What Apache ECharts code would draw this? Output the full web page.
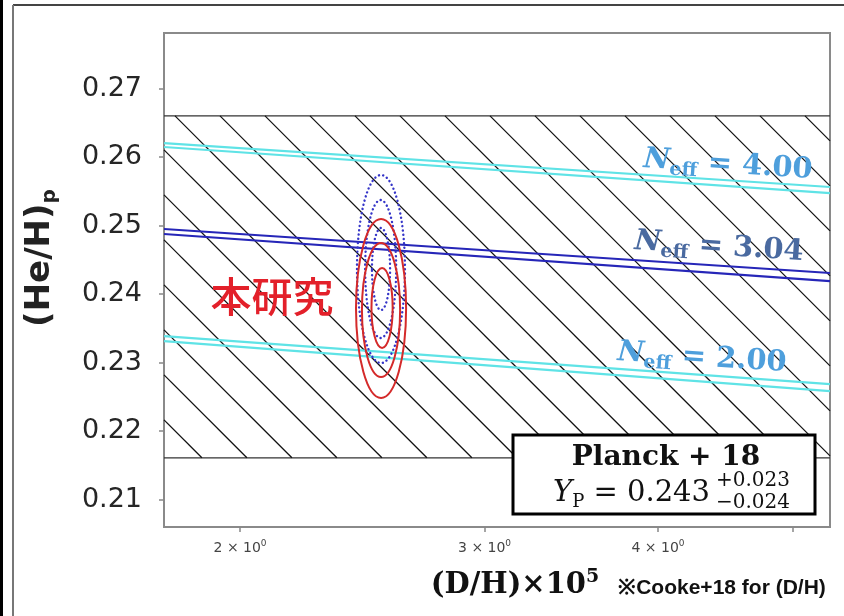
<!DOCTYPE html>
<html><head><meta charset="utf-8">
<script src="https://cdn.jsdelivr.net/npm/echarts@6/dist/echarts.min.js"></script>
<style>html,body{margin:0;padding:0;background:#fff}#c{width:844px;height:616px}</style>
</head><body><div id="c"></div>
<script>
// ---- data ----
const xRange = [1.763, 5.32];
const yRange = [0.206, 0.2781];
const xTickValues = [2, 3, 4, 5];
const xLabelValues = [2, 3, 4];
const yTickValues = [0.21, 0.22, 0.23, 0.24, 0.25, 0.26, 0.27];
const planckBand = [0.2161, 0.2660];
const neffX = [1.763, 5.32];
const neff400Upper = [0.26204, 0.25562];
const neff400Lower = [0.26146, 0.25474];
const neff304Upper = [0.24949, 0.24307];
const neff304Lower = [0.24876, 0.24190];
const neff200Upper = [0.23387, 0.22686];
const neff200Lower = [0.23314, 0.22584];
// contours: [xLeft, xRight, yLow, yHigh]
const thisWorkContours = [
  [2.487, 2.576, 0.23212, 0.24380],
  [2.448, 2.608, 0.22788, 0.24744],
  [2.424, 2.634, 0.22482, 0.25095]
];
const dottedContours = [
  [2.489, 2.565, 0.23766, 0.24964],
  [2.461, 2.591, 0.23358, 0.25372],
  [2.428, 2.629, 0.22993, 0.25737]
];

const chart = echarts.init(document.getElementById('c'), null, {renderer: 'canvas'});
const CYAN = '#5fe3e6', BLUE = '#2626b8';

function pairs(xs, ys) { return xs.map((x, i) => [x, ys[i]]); }
function lineSeries(xs, ys, color) {
  return {type: 'line', data: pairs(xs, ys), symbol: 'none', silent: true, z: 3,
    lineStyle: {color: color, width: 2.2}};
}
function ellipseSeries(data, style) {
  return {type: 'custom', coordinateSystem: 'cartesian2d', data: data, z: 4, silent: true,
    encode: {x: [0, 1], y: [2, 3]},
    renderItem: function (params, api) {
      const p1 = api.coord([api.value(0), api.value(3)]);
      const p2 = api.coord([api.value(1), api.value(2)]);
      return {type: 'ellipse',
        shape: {cx: (p1[0] + p2[0]) / 2, cy: (p1[1] + p2[1]) / 2,
                rx: Math.abs(p2[0] - p1[0]) / 2, ry: Math.abs(p2[1] - p1[1]) / 2},
        style: Object.assign({fill: 'none'}, style)};
    }};
}

const hatchSeries = {
  type: 'custom', coordinateSystem: 'cartesian2d', silent: true, z: 1,
  data: [[xRange[0], planckBand[0], xRange[1], planckBand[1]]],
  encode: {x: [0, 2], y: [1, 3]},
  renderItem: function (params, api) {
    const cs = params.coordSys;
    const L = cs.x, R = cs.x + cs.width;
    const top = api.coord([api.value(0), api.value(3)])[1];
    const bot = api.coord([api.value(0), api.value(1)])[1];
    const children = [];
    const st = {stroke: '#111', lineWidth: 1.3};
    children.push({type: 'line', shape: {x1: L, y1: top, x2: R, y2: top}, style: {stroke: '#333', lineWidth: 1.3}});
    children.push({type: 'line', shape: {x1: L, y1: bot, x2: R, y2: bot}, style: {stroke: '#333', lineWidth: 1.3}});
    const step = 45;
    for (let c = 34 - step * 20; c <= bot - top; c += step) {
      const xs = Math.max(L, L - c), xe = Math.min(R, L + (bot - top) - c);
      if (xs < xe) {
        children.push({type: 'line', shape: {x1: xs, y1: top + c + (xs - L), x2: xe, y2: top + c + (xe - L)}, style: st});
      }
    }
    return {type: 'group', children: children};
  }
};

const serif = "'DejaVu Serif', 'Liberation Serif', serif";
function neffLabel(x, y, val, color) {
  return {type: 'text', x: x, y: y, rotation: -0.066, z: 10,
    style: {text: '{n|N}{s|eff}{t| = ' + val + '}', align: 'center', verticalAlign: 'middle',
      rich: {
        n: {fontFamily: serif, fontSize: 29, fontWeight: 'bold', fontStyle: 'italic', fill: color, lineHeight: 36, verticalAlign: 'middle'},
        s: {fontFamily: serif, fontSize: 19, fontWeight: 'bold', fill: color, lineHeight: 18, verticalAlign: 'bottom'},
        t: {fontFamily: serif, fontSize: 29, fontWeight: 'bold', fill: color, lineHeight: 36, verticalAlign: 'middle'}
      }}};
}

const option = {
  animation: false,
  backgroundColor: '#fff',
  grid: {left: 164, right: 14, top: 33, bottom: 89, show: true, borderColor: '#8a8a8a', borderWidth: 2, backgroundColor: 'transparent'},
  xAxis: {type: 'log', logBase: 10, min: xRange[0], max: xRange[1],
    axisLine: {show: false}, splitLine: {show: false}, minorTick: {show: false},
    axisTick: {show: true, inside: false, length: 5, lineStyle: {color: '#888', width: 1.5}, customValues: xTickValues},
    axisLabel: {customValues: xLabelValues, margin: 12, color: '#444',
      formatter: function (v) { return '{a|' + Math.round(v) + ' \u00d7 10}{s|0}'; },
      rich: {a: {fontSize: 14, fontFamily: 'DejaVu Sans', color: '#444', lineHeight: 18, verticalAlign: 'middle'},
             s: {fontSize: 9, fontFamily: 'DejaVu Sans', color: '#444', lineHeight: 9, verticalAlign: 'top'}}}},
  yAxis: {type: 'value', min: yRange[0], max: yRange[1],
    axisLine: {show: false}, splitLine: {show: false},
    axisTick: {show: true, inside: false, length: 5, lineStyle: {color: '#888', width: 1.5}, customValues: yTickValues},
    axisLabel: {customValues: yTickValues, margin: 22, fontSize: 27, color: '#262626', fontFamily: 'DejaVu Sans',
      formatter: function (v) { return v.toFixed(2); }}},
  series: [
    hatchSeries,
    lineSeries(neffX, neff400Upper, CYAN), lineSeries(neffX, neff400Lower, CYAN),
    lineSeries(neffX, neff304Upper, BLUE), lineSeries(neffX, neff304Lower, BLUE),
    lineSeries(neffX, neff200Upper, CYAN), lineSeries(neffX, neff200Lower, CYAN),
    ellipseSeries(dottedContours, {stroke: '#3535c8', lineWidth: 2.4, lineDash: [0.1, 4.2], lineCap: 'round'}),
    ellipseSeries(thisWorkContours, {stroke: '#d42a2a', lineWidth: 2})
  ],
  graphic: [
    // outer frame
    {type: 'rect', shape: {x: 0, y: 0, width: 3, height: 616}, style: {fill: '#000'}},
    {type: 'line', shape: {x1: 13, y1: 5, x2: 844, y2: 5}, style: {stroke: '#444', lineWidth: 2}},
    {type: 'line', shape: {x1: 13, y1: 5, x2: 13, y2: 616}, style: {stroke: '#777', lineWidth: 2}},
    // y axis title
    {type: 'text', x: 40, y: 258, rotation: Math.PI / 2, z: 10,
      style: {text: '{a|(He/H)}{b|p}', align: 'center', verticalAlign: 'middle',
        rich: {a: {fontFamily: 'DejaVu Sans', fontSize: 34, fontWeight: 'bold', fill: '#222', lineHeight: 40, verticalAlign: 'middle'},
               b: {fontFamily: 'DejaVu Sans', fontSize: 20, fontWeight: 'bold', fill: '#222', lineHeight: 20, verticalAlign: 'bottom'}}}},
    // x axis title
    {type: 'text', x: 515, y: 585, z: 10,
      style: {text: '{a|(D/H)\u00d710}{b|5}', align: 'center', verticalAlign: 'middle',
        rich: {a: {fontFamily: serif, fontSize: 29, fontWeight: 'bold', fill: '#111', lineHeight: 34, verticalAlign: 'middle'},
               b: {fontFamily: serif, fontSize: 19, fontWeight: 'bold', fill: '#111', lineHeight: 18, verticalAlign: 'top'}}}},
    {type: 'text', x: 722, y: 588, z: 10,
      style: {text: '\u203bCooke+18 for (D/H)', align: 'center', verticalAlign: 'middle',
        font: "bold 21px 'Liberation Sans Narrow', 'Liberation Sans', sans-serif", fill: '#111'}},
    // this work label
    {type: 'text', x: 272, y: 296, z: 10,
      style: {text: '本研究', align: 'center', verticalAlign: 'middle',
        font: "500 41px 'Noto Sans CJK JP', sans-serif", fill: '#e3202a'}},
    neffLabel(728, 165, '4.00', '#4e9fdc'),
    neffLabel(719, 247, '3.04', '#4a6aa0'),
    neffLabel(702, 358, '2.00', '#4e9fdc'),
    // Planck box
    {type: 'rect', z: 20, shape: {x: 513, y: 435, width: 302, height: 79},
      style: {fill: '#fff', stroke: '#000', lineWidth: 3}},
    {type: 'text', z: 21, x: 666, y: 458,
      style: {text: 'Planck + 18', align: 'center', verticalAlign: 'middle', font: "bold 28px " + serif, fill: '#111'}},
    {type: 'text', z: 21, x: 553, y: 493,
      style: {text: '{y|Y}{p|P}{e| = 0.243}', align: 'left', verticalAlign: 'middle',
        rich: {y: {fontFamily: serif, fontSize: 29, fontStyle: 'italic', fill: '#111', lineHeight: 36, verticalAlign: 'middle'},
               p: {fontFamily: serif, fontSize: 18, fill: '#111', lineHeight: 18, verticalAlign: 'bottom'},
               e: {fontFamily: serif, fontSize: 29, fill: '#111', lineHeight: 36, verticalAlign: 'middle'}}}},
    {type: 'text', z: 21, x: 716, y: 481,
      style: {text: '+0.023', align: 'left', verticalAlign: 'middle', font: "20px " + serif, fill: '#111'}},
    {type: 'text', z: 21, x: 716, y: 503,
      style: {text: '\u22120.024', align: 'left', verticalAlign: 'middle', font: "20px " + serif, fill: '#111'}}
  ]
};
chart.setOption(option);
</script>
</body></html>
